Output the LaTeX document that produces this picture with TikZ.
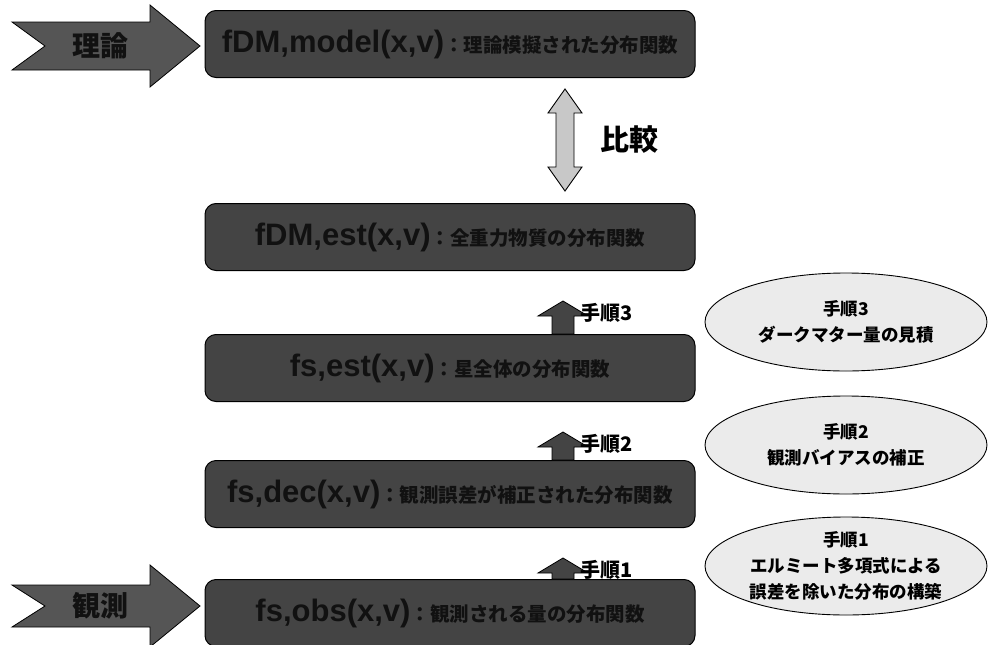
\documentclass[tikz,border=0pt]{standalone}
\usepackage{fontspec}
\setmainfont{Liberation Sans}
\newfontfamily\jp{Noto Sans CJK JP}
\usetikzlibrary{shapes.geometric,calc}
\definecolor{boxgray}{HTML}{444444}
\definecolor{boxtext}{HTML}{111111}
\definecolor{chevgray}{HTML}{555555}
\definecolor{cmpgray}{HTML}{C8C8C8}
\definecolor{ovalgray}{HTML}{EBEBEB}
\begin{document}
\begin{tikzpicture}[x=1pt,y=-1pt,
  fbox/.style={draw=black, line width=1pt, fill=boxgray, rounded corners=11pt,
    minimum width=490pt, minimum height=67pt, inner sep=0pt, text=boxtext,
    font=\bfseries\fontsize{31}{33}\selectfont},
  oval/.style={ellipse, draw=black, line width=0.9pt, fill=ovalgray,
    minimum width=282pt, minimum height=98pt, inner sep=0pt, align=center,
    font=\jp\bfseries\fontsize{17.5}{26}\selectfont},
  steplabel/.style={anchor=west, inner sep=0pt, font=\jp\bfseries\fontsize{20}{22}\selectfont},
  chev/.style={draw=black, line width=0.8pt, fill=chevgray},
  uparrow/.style={draw=black, line width=0.8pt, fill=boxgray},
  cmparrow/.style={draw=black, line width=0.9pt, fill=cmpgray}]
\useasboundingbox (0,0) rectangle (988,645);

\newcommand\jt[1]{{\jp\fontsize{19.5}{21}\selectfont #1}}

% distribution-function boxes
\node[fbox] (model) at (450,44)  {fDM,model(x,v)\jt{：理論模擬された分布関数}};
\node[fbox] (dmest) at (450,237) {fDM,est(x,v)\jt{：全重力物質の分布関数}};
\node[fbox] (sest)  at (450,368) {fs,est(x,v)\jt{：星全体の分布関数}};
\node[fbox] (sdec)  at (450,494) {fs,dec(x,v)\jt{：観測誤差が補正された分布関数}};
\node[fbox] (sobs)  at (450,613) {fs,obs(x,v)\jt{：観測される量の分布関数}};

% input chevrons
\draw[chev] (12,22) -- (150,22) -- (150,5) -- (200,46) -- (150,87) -- (150,70) -- (12,70) -- (45,46) -- cycle;
\node[font=\jp\bfseries\fontsize{28}{30}\selectfont, text=boxtext] (theory) at (100,46) {理論};
\draw[chev] (12,585) -- (150,585) -- (150,565) -- (200,606) -- (150,647) -- (150,627) -- (12,627) -- (45,606) -- cycle;
\node[font=\jp\bfseries\fontsize{28}{30}\selectfont, text=boxtext] (obs) at (100,606) {観測};

% comparison double arrow
\coordinate (ct) at ($(model.south)+(115,11)$);
\coordinate (cb) at ($(dmest.north)+(115,-12)$);
\draw[cmparrow] (ct) -- ++(17,24) -- ++(-8,0) -- ($(cb)+(9,-24)$) -- ++(8,0) -- (cb)
  -- ++(-17,-24) -- ++(8,0) -- ($(ct)+(-9,24)$) -- ++(-8,0) -- cycle;
\node[anchor=west, inner sep=0pt, font=\jp\bfseries\fontsize{29}{31}\selectfont] (cmp) at (600,140) {比較};

% step arrows between boxes
\foreach \lo/\hi/\n in {sobs/sdec/1, sdec/sest/2, sest/dmest/3}{
  \coordinate (b) at ($(\lo.north)+(113,0)$);
  \coordinate (t) at ($(\hi.south)+(113,30)$);
  \draw[uparrow] (b) ++(-11,0) -- ($(t)+(-11,15)$) -- ++(-14,0) -- (t)
    -- ++(25,15) -- ++(-14,0) -- ($(b)+(11,0)$) -- cycle;
  \node[steplabel] (lab\n) at ($(t)+(17,12)$) {手順\n};
}

% explanation ovals
\node[oval] (o3) at (846,322) {手順3\\ダークマター量の見積};
\node[oval] (o2) at (846,445) {手順2\\観測バイアスの補正};
\node[oval] (o1) at (846,566) {手順1\\エルミート多項式による\\誤差を除いた分布の構築};
\end{tikzpicture}
\end{document}
